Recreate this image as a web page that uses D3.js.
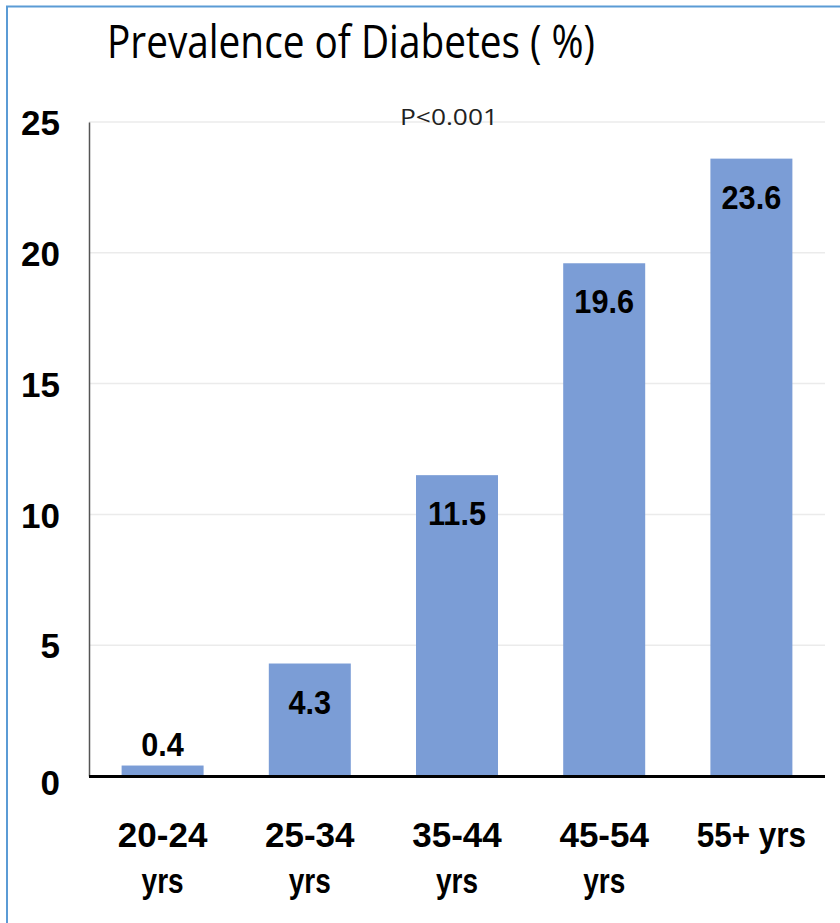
<!DOCTYPE html>
<html>
<head>
<meta charset="utf-8">
<script src="https://cdn.jsdelivr.net/npm/d3@7"></script>
<style>
  html, body { margin: 0; padding: 0; background: #fff; }
  svg { display: block; }
</style>
</head>
<body>
<svg id="chart" width="840" height="923"></svg>
<script>
// Age groups (two-line labels) and diabetes prevalence in percent
const categories = [["20-24", "yrs"], ["25-34", "yrs"], ["35-44", "yrs"], ["45-54", "yrs"], ["55+ yrs"]];
const prevalence = [0.4, 4.3, 11.5, 19.6, 23.6];
const yTicks = [0, 5, 10, 15, 20, 25];
const chartTitle = "Prevalence of Diabetes ( %)";
const pValueNote = "P<0.001";

const svg = d3.select("#chart");
const W = 840, H = 923;
const margin = { left: 89, right: 15, top: 122, bottom: 147 };

// Frame lines along the top and left edge
svg.append("path")
  .attr("d", `M7,${H} L7,6.5 L${W},6.5`)
  .attr("fill", "none")
  .attr("stroke", "#5b9bd5")
  .attr("stroke-width", 2);

const keys = categories.map(c => c.join(" "));
const x = d3.scaleBand()
  .domain(keys)
  .range([margin.left, W - margin.right])
  .paddingInner(0.443)
  .paddingOuter(0.2215);

const y = d3.scaleLinear()
  .domain([0, 25])
  .range([H - margin.bottom, margin.top]);

// Horizontal gridlines
svg.append("g")
  .selectAll("line")
  .data(yTicks.filter(t => t > 0))
  .join("line")
  .attr("x1", margin.left)
  .attr("x2", W - margin.right)
  .attr("y1", d => y(d))
  .attr("y2", d => y(d))
  .attr("stroke", "#ebebeb")
  .attr("stroke-width", 1.5);

// Y axis
const yAxis = d3.axisLeft(y).tickValues(yTicks).tickSize(0).tickPadding(29).tickFormat(d3.format("d"));
const gy = svg.append("g")
  .attr("transform", `translate(${margin.left},0)`)
  .call(yAxis);
gy.select(".domain").attr("stroke", "#555").attr("stroke-width", 1.5);
gy.selectAll(".tick text")
  .attr("font-family", "'Liberation Sans', Arial, sans-serif")
  .attr("font-weight", "bold")
  .attr("font-size", 35)
  .attr("fill", "#000")
  .attr("dy", d => d === 0 ? "0.52em" : "0.36em");

// Bars
svg.append("g")
  .selectAll("rect")
  .data(prevalence)
  .join("rect")
  .attr("x", (d, i) => x(keys[i]))
  .attr("width", x.bandwidth())
  .attr("y", d => y(d))
  .attr("height", d => y(0) - y(d))
  .attr("fill", "#7b9dd6");

// Baseline
svg.append("line")
  .attr("x1", margin.left)
  .attr("x2", W - margin.right)
  .attr("y1", y(0) + 0.5)
  .attr("y2", y(0) + 0.5)
  .attr("stroke", "#000")
  .attr("stroke-width", 3);

// Value labels: inside the top of the bar, or just above when the bar is short
svg.append("g")
  .selectAll("text")
  .data(prevalence)
  .join("text")
  .attr("x", (d, i) => x(keys[i]) + x.bandwidth() / 2)
  .attr("y", d => (y(0) - y(d) > 60) ? y(d) + 50 : y(d) - 10)
  .attr("text-anchor", "middle")
  .attr("font-family", "'Liberation Sans', Arial, sans-serif")
  .attr("font-weight", "bold")
  .attr("font-size", 33)
  .attr("fill", "#000")
  .text(d => d.toFixed(1))
  .each(function () {
    // slightly condensed figures
    const w = this.getComputedTextLength();
    d3.select(this).attr("textLength", w * 0.93).attr("lengthAdjust", "spacingAndGlyphs");
  });

// Category labels, one text element per line
const xg = svg.append("g");
categories.forEach((lines, i) => {
  lines.forEach((s, j) => {
    const t = xg.append("text")
      .attr("x", x(keys[i]) + x.bandwidth() / 2)
      .attr("y", 847 + j * 46)
      .attr("text-anchor", "middle")
      .attr("font-family", "'Liberation Sans', Arial, sans-serif")
      .attr("font-weight", "bold")
      .attr("font-size", 35)
      .attr("fill", "#000")
      .text(s);
    // letters are set narrower than the figures
    const w = t.node().getComputedTextLength();
    const k = /[a-z]/.test(s) ? (s.length > 3 ? 0.9 : 0.8) : 1;
    if (k < 1) t.attr("textLength", w * k).attr("lengthAdjust", "spacingAndGlyphs");
  });
});

// Title
svg.append("text")
  .attr("x", 107)
  .attr("y", 58)
  .attr("font-family", "'Open Sans', 'Noto Sans', sans-serif")
  .attr("font-size", 46)
  .attr("fill", "#000")
  .attr("textLength", 488)
  .attr("lengthAdjust", "spacingAndGlyphs")
  .text(chartTitle);

// Significance note
svg.append("text")
  .attr("x", 449)
  .attr("y", 125)
  .attr("text-anchor", "middle")
  .attr("font-family", "'Open Sans', 'Noto Sans', sans-serif")
  .attr("font-size", 21)
  .attr("fill", "#222")
  .attr("textLength", 98)
  .attr("lengthAdjust", "spacingAndGlyphs")
  .text(pValueNote);
</script>
</body>
</html>
